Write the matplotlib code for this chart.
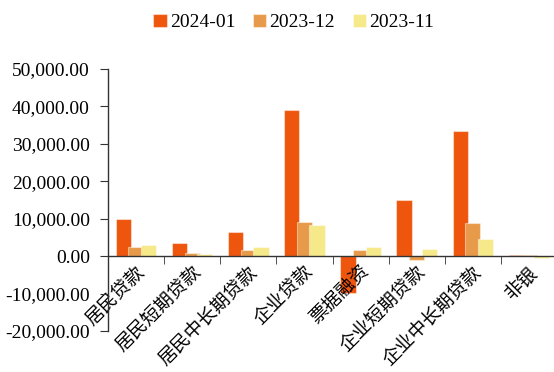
import matplotlib
matplotlib.use("Agg")
import matplotlib.pyplot as plt
import numpy as np
from matplotlib.ticker import FuncFormatter, FixedLocator

plt.rcParams['font.family'] = ['Liberation Serif', 'Noto Sans CJK SC']

categories = ['居民贷款', '居民短期贷款', '居民中长期贷款', '企业贷款',
              '票据融资', '企业短期贷款', '企业中长期贷款', '非银']
series_names = ['2024-01', '2023-12', '2023-11']
v_2024_01 = [9900, 3580, 6520, 39000, -9800, 14900, 33500, 400]
v_2023_12 = [2400, 900, 1520, 9100, 1700, -1150, 8740, 400]
v_2023_11 = [3050, 640, 2400, 8400, 2330, 1870, 4650, -500]
colors = ['#EF560D', '#E79A4A', '#F6E98A']

fig = plt.figure(figsize=(5.54, 3.72), dpi=100)
ax = fig.add_axes([108/554, 41/372, 449/554, 262/372])

x = np.arange(len(categories))
offsets = [-0.225, 0.0, 0.225]
for vals, off, col, name in zip([v_2024_01, v_2023_12, v_2023_11], offsets, colors, series_names):
    ax.bar(x + off, vals, width=0.27, color=col, label=name,
           edgecolor=(1, 1, 1, 0.45), linewidth=0.8)

ax.set_xlim(-0.5, len(categories) - 0.5)
ax.set_ylim(-20000, 50000)
ax.set_yticks(np.arange(-20000, 50001, 10000))
ax.yaxis.set_major_formatter(FuncFormatter(lambda v, p: f"{v:,.2f}"))

for s in ['top', 'right']:
    ax.spines[s].set_visible(False)
ax.spines['bottom'].set_position(('data', 0))
ax.spines['left'].set_color('#333333')
ax.spines['bottom'].set_color('#333333')
ax.spines['left'].set_linewidth(1.0)
ax.spines['bottom'].set_linewidth(1.0)

ax.set_xticks(x)
ax.set_xticklabels(categories, rotation=45, ha='right', va='top',
                   rotation_mode='anchor', fontsize=13.5)
ax.xaxis.set_minor_locator(FixedLocator(np.arange(-0.5, len(categories), 1.0)))
ax.tick_params(axis='x', which='major', length=0, pad=5)
ax.tick_params(axis='x', which='minor', length=6, direction='out', color='#333333')
ax.tick_params(axis='y', length=6, direction='out', labelsize=14, pad=7, color='#333333')

fig.legend(loc='center', bbox_to_anchor=(0.53, 0.94), ncol=3, frameon=False,
           fontsize=14, handlelength=0.7, handleheight=0.7, handletextpad=0.15,
           columnspacing=0.9)

fig.savefig('out.png', dpi=100)
